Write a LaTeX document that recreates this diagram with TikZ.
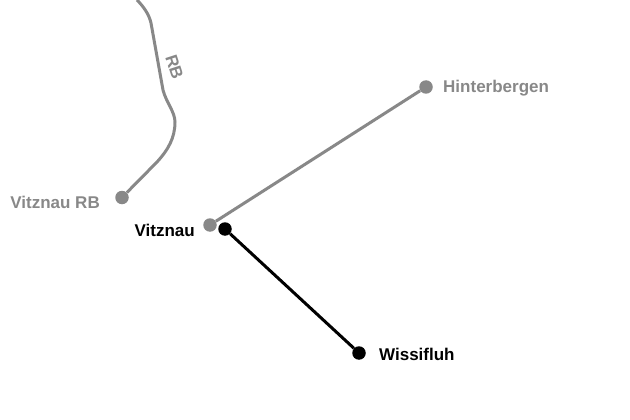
\documentclass[tikz,border=0pt]{standalone}
\usepackage{xcolor}
\usepackage{fontspec}
\setmainfont{Liberation Sans}
\usetikzlibrary{positioning}
\definecolor{linegray}{HTML}{888888}

\begin{document}
\begin{tikzpicture}[x=1pt, y=-1pt,
    stop/.style={circle, fill=linegray, inner sep=0pt, minimum size=13.5pt},
    stopb/.style={circle, fill=black, inner sep=0pt, minimum size=13.5pt},
    txt/.style={font=\bfseries\fontsize{17pt}{19pt}\selectfont, text=linegray, inner sep=0pt},
    txtb/.style={font=\bfseries\fontsize{17pt}{19pt}\selectfont, text=black, inner sep=0pt},
    line/.style={draw=linegray, line width=3pt},
    lineb/.style={draw=black, line width=3pt}]

    \useasboundingbox (0,0) rectangle (630,420);

    \node[stop] (rb) at (122,197.5) {};
    \node[stop] (vitznau_g) at (210,225) {};
    \node[stop] (hinter) at (426,87) {};
    \node[stopb] (vitznau_b) at (225,229) {};
    \node[stopb] (wissi) at (359,353) {};
    \coordinate (rb_top) at (137,0);

    \node[txt, anchor=east] (rb_t) at (100,202) {Vitznau RB};
    \node[txt, anchor=west] (hinter_t) at (443,88.5) {Hinterbergen};
    \node[txtb, anchor=east] (vitznau_t) at (195,230) {Vitznau};
    \node[txtb, anchor=west] (wissi_t) at (379,354) {Wissifluh};
    \node[txt, rotate=-72] (line_t) at (174.5,67) {RB};

    \draw[line] (rb_top) .. controls (143,6) and (149,14) .. (151,23)
        -- (163,90) .. controls (166,102) and (175,112) .. (175,122)
        .. controls (175,138) and (168,150) .. (157,162) -- (rb);
    \draw[line] (vitznau_g) -- (hinter);
    \draw[lineb] (vitznau_b) -- (wissi);
\end{tikzpicture}
\end{document}
